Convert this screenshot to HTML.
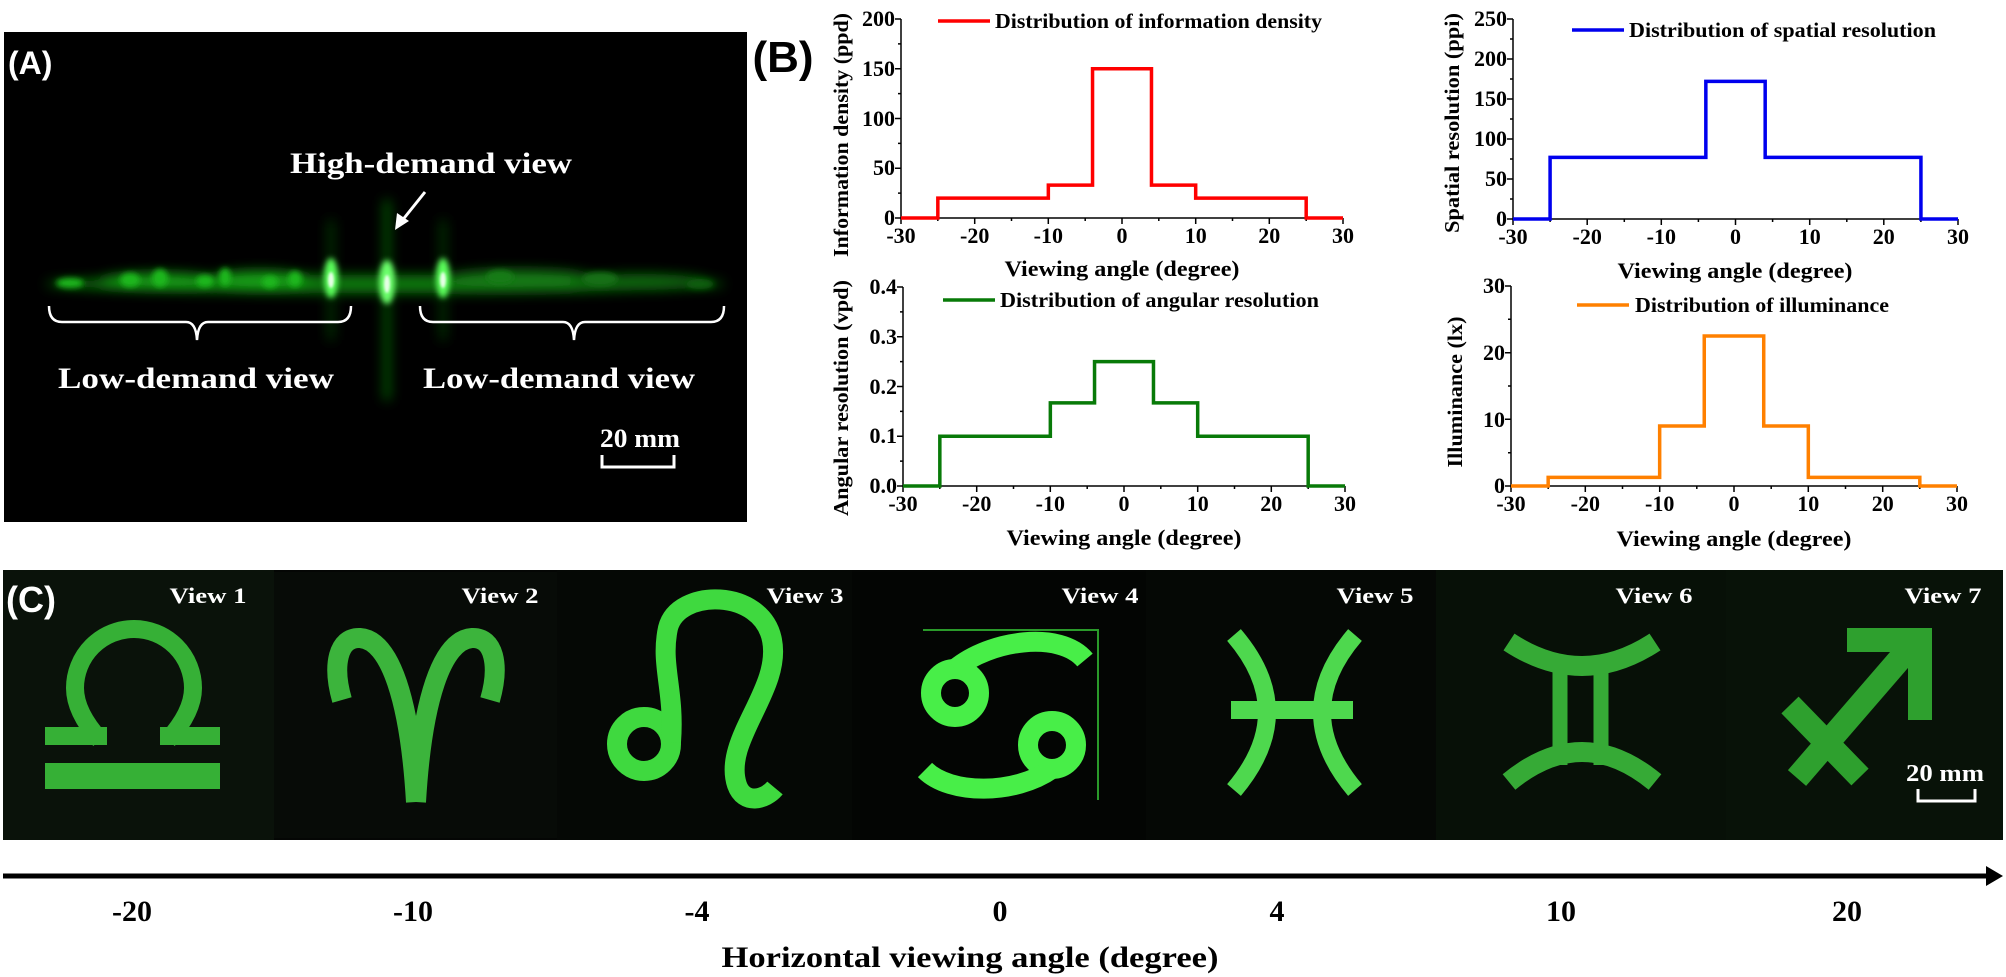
<!DOCTYPE html>
<html><head><meta charset="utf-8"><style>
html,body{margin:0;padding:0;background:#fff;}
svg{display:block;}
.t{font-family:"Liberation Serif",serif;font-weight:bold;}
.s{font-family:"Liberation Sans",sans-serif;font-weight:bold;}
</style></head><body>
<svg width="2006" height="977" viewBox="0 0 2006 977" xmlns="http://www.w3.org/2000/svg">
<defs>
<filter id="b6" x="-50%" y="-50%" width="200%" height="200%"><feGaussianBlur stdDeviation="6"/></filter>
<filter id="b3" x="-50%" y="-50%" width="200%" height="200%"><feGaussianBlur stdDeviation="3"/></filter>
<filter id="b1"><feGaussianBlur stdDeviation="1.2"/></filter>
</defs>

<!-- Panel A -->
<rect x="4" y="32" width="743" height="490" fill="#000"/>
<g filter="url(#b6)">
<ellipse cx="385" cy="284" rx="340" ry="9" fill="#0e7a0e"/>
<ellipse cx="160" cy="281" rx="60" ry="8" fill="#18a018"/>
<ellipse cx="260" cy="280" rx="50" ry="9" fill="#16a016"/>
<ellipse cx="520" cy="280" rx="80" ry="10" fill="#127c12"/>
<ellipse cx="640" cy="282" rx="70" ry="8" fill="#0d6a0d"/>
<rect x="384" y="200" width="6" height="200" fill="#0b6a0b"/>
<rect x="329" y="220" width="4" height="120" fill="#0a5a0a"/>
<rect x="441" y="220" width="4" height="120" fill="#0a5a0a"/>
</g>
<g filter="url(#b3)" fill="#1fb81f">
<ellipse cx="70" cy="283" rx="14" ry="5"/>
<ellipse cx="130" cy="280" rx="10" ry="7"/>
<ellipse cx="160" cy="278" rx="8" ry="9"/>
<ellipse cx="205" cy="281" rx="9" ry="6"/>
<ellipse cx="225" cy="277" rx="6" ry="9"/>
<ellipse cx="270" cy="282" rx="8" ry="6"/>
<ellipse cx="295" cy="279" rx="7" ry="8"/>
<ellipse cx="500" cy="277" rx="14" ry="7" fill="#147c14"/>
<ellipse cx="600" cy="279" rx="18" ry="7" fill="#127012"/>
<ellipse cx="700" cy="284" rx="14" ry="5" fill="#105e10"/>
</g>
<g filter="url(#b3)">
<ellipse cx="331" cy="278" rx="7" ry="20" fill="#5cff5c"/>
<ellipse cx="387" cy="282" rx="8" ry="22" fill="#6cff6c"/>
<ellipse cx="443" cy="278" rx="7" ry="20" fill="#5cff5c"/>
</g>
<g filter="url(#b1)">
<ellipse cx="331" cy="280" rx="3" ry="8" fill="#e8ffe8"/>
<ellipse cx="387" cy="284" rx="3" ry="9" fill="#e8ffe8"/>
<ellipse cx="443" cy="280" rx="3" ry="8" fill="#e8ffe8"/>
</g>
<text class="s" x="8" y="74" font-size="32" fill="#fff">(A)</text>
<text class="t" x="431" y="173" font-size="30" fill="#fff" text-anchor="middle" textLength="282" lengthAdjust="spacingAndGlyphs">High-demand view</text>
<line x1="425" y1="192" x2="401" y2="222" stroke="#fff" stroke-width="3"/>
<polygon points="395,230 397,213 409,221" fill="#fff"/>
<path d="M49 306 Q49 322 62 322 H186 Q196 322 197 340 Q198 322 208 322 H338 Q351 322 351 306" fill="none" stroke="#fff" stroke-width="2.5"/>
<path d="M420 306 Q420 322 433 322 H563 Q573 322 574 340 Q575 322 585 322 H711 Q724 322 724 306" fill="none" stroke="#fff" stroke-width="2.5"/>
<text class="t" x="58" y="388" font-size="30" fill="#fff" textLength="276" lengthAdjust="spacingAndGlyphs">Low-demand view</text>
<text class="t" x="423" y="388" font-size="30" fill="#fff" textLength="272" lengthAdjust="spacingAndGlyphs">Low-demand view</text>
<text class="t" x="640" y="447" font-size="26" fill="#fff" text-anchor="middle" textLength="80" lengthAdjust="spacingAndGlyphs">20 mm</text>
<path d="M602 455 V467 H674 V455" fill="none" stroke="#fff" stroke-width="3"/>

<text class="s" x="783" y="72" font-size="44" fill="#000" text-anchor="middle">(B)</text>

<!-- Chart 1 -->
<g fill="none" stroke="#000" stroke-width="1.5">
<path d="M901 19 V218 H1343"/>
<path d="M901 218v6M974.7 218v6M1048.3 218v6M1122 218v6M1195.7 218v6M1269.3 218v6M1343 218v6M937.8 218v3M1011.5 218v3M1085.2 218v3M1158.8 218v3M1232.5 218v3M1306.2 218v3M901 218h-6M901 168.25h-6M901 118.5h-6M901 68.75h-6M901 19h-6M901 193.1h-3M901 143.4h-3M901 93.6h-3M901 43.9h-3"/>
</g>
<path transform="translate(901,218) scale(7.367,-0.995)" d="M0 0 H5 V20 H20 V33 H26 V150 H34 V33 H40 V20 H55 V0 H60" fill="none" stroke="#ff0000" stroke-width="3.5" style="vector-effect:non-scaling-stroke"/>
<g class="t" font-size="22" text-anchor="middle">
<text x="901" y="243">-30</text><text x="974.7" y="243">-20</text><text x="1048.3" y="243">-10</text><text x="1122" y="243">0</text><text x="1195.7" y="243">10</text><text x="1269.3" y="243">20</text><text x="1343" y="243">30</text>
</g>
<g class="t" font-size="22" text-anchor="end">
<text x="895" y="225">0</text><text x="895" y="175">50</text><text x="895" y="126">100</text><text x="895" y="76">150</text><text x="895" y="26">200</text>
</g>
<text class="t" x="1122" y="276" font-size="22" text-anchor="middle" textLength="235" lengthAdjust="spacingAndGlyphs">Viewing angle (degree)</text>
<text class="t" transform="translate(848,135) rotate(-90)" font-size="21" text-anchor="middle" textLength="244" lengthAdjust="spacingAndGlyphs">Information density (ppd)</text>
<line x1="938" y1="21" x2="990" y2="21" stroke="#ff0000" stroke-width="3.5"/>
<text class="t" x="995" y="28" font-size="21" textLength="327" lengthAdjust="spacingAndGlyphs">Distribution of information density</text>

<!-- Chart 2 -->
<g fill="none" stroke="#000" stroke-width="1.5">
<path d="M1513 19 V219 H1958"/>
<path d="M1513 219v6M1587.2 219v6M1661.3 219v6M1735.5 219v6M1809.7 219v6M1883.8 219v6M1958 219v6M1550.1 219v3M1624.3 219v3M1698.4 219v3M1772.6 219v3M1846.8 219v3M1920.9 219v3M1513 219h-6M1513 179h-6M1513 139h-6M1513 99h-6M1513 59h-6M1513 19h-6M1513 199h-3M1513 159h-3M1513 119h-3M1513 79h-3M1513 39h-3"/>
</g>
<path transform="translate(1513,219) scale(7.417,-0.8)" d="M0 0 H5 V77 H26 V172 H34 V77 H55 V0 H60" fill="none" stroke="#0000ee" stroke-width="3.5" style="vector-effect:non-scaling-stroke"/>
<g class="t" font-size="22" text-anchor="middle">
<text x="1513" y="244">-30</text><text x="1587.2" y="244">-20</text><text x="1661.3" y="244">-10</text><text x="1735.5" y="244">0</text><text x="1809.7" y="244">10</text><text x="1883.8" y="244">20</text><text x="1958" y="244">30</text>
</g>
<g class="t" font-size="22" text-anchor="end">
<text x="1507" y="226">0</text><text x="1507" y="186">50</text><text x="1507" y="146">100</text><text x="1507" y="106">150</text><text x="1507" y="66">200</text><text x="1507" y="26">250</text>
</g>
<text class="t" x="1735" y="278" font-size="22" text-anchor="middle" textLength="235" lengthAdjust="spacingAndGlyphs">Viewing angle (degree)</text>
<text class="t" transform="translate(1459,123) rotate(-90)" font-size="21" text-anchor="middle" textLength="220" lengthAdjust="spacingAndGlyphs">Spatial resolution (ppi)</text>
<line x1="1572" y1="30" x2="1624" y2="30" stroke="#0000ee" stroke-width="3.5"/>
<text class="t" x="1629" y="37" font-size="21" textLength="307" lengthAdjust="spacingAndGlyphs">Distribution of spatial resolution</text>

<!-- Chart 3 -->
<g fill="none" stroke="#000" stroke-width="1.5">
<path d="M903 287 V486 H1345"/>
<path d="M903 486v6M976.7 486v6M1050.3 486v6M1124 486v6M1197.7 486v6M1271.3 486v6M1345 486v6M939.8 486v3M1013.5 486v3M1087.2 486v3M1160.8 486v3M1234.5 486v3M1308.2 486v3M903 486h-6M903 436.25h-6M903 386.5h-6M903 336.75h-6M903 287h-6M903 461.1h-3M903 411.4h-3M903 361.6h-3M903 311.9h-3"/>
</g>
<path transform="translate(903,486) scale(7.367,-497.5)" d="M0 0 H5 V0.1 H20 V0.167 H26 V0.25 H34 V0.167 H40 V0.1 H55 V0 H60" fill="none" stroke="#087a08" stroke-width="3.5" style="vector-effect:non-scaling-stroke"/>
<g class="t" font-size="22" text-anchor="middle">
<text x="903" y="511">-30</text><text x="976.7" y="511">-20</text><text x="1050.3" y="511">-10</text><text x="1124" y="511">0</text><text x="1197.7" y="511">10</text><text x="1271.3" y="511">20</text><text x="1345" y="511">30</text>
</g>
<g class="t" font-size="22" text-anchor="end">
<text x="897" y="493">0.0</text><text x="897" y="443">0.1</text><text x="897" y="394">0.2</text><text x="897" y="344">0.3</text><text x="897" y="294">0.4</text>
</g>
<text class="t" x="1124" y="545" font-size="22" text-anchor="middle" textLength="235" lengthAdjust="spacingAndGlyphs">Viewing angle (degree)</text>
<text class="t" transform="translate(848,398) rotate(-90)" font-size="21" text-anchor="middle" textLength="236" lengthAdjust="spacingAndGlyphs">Angular resolution (vpd)</text>
<line x1="943" y1="300" x2="995" y2="300" stroke="#087a08" stroke-width="3.5"/>
<text class="t" x="1000" y="307" font-size="21" textLength="319" lengthAdjust="spacingAndGlyphs">Distribution of angular resolution</text>

<!-- Chart 4 -->
<g fill="none" stroke="#000" stroke-width="1.5">
<path d="M1511 286 V486 H1957"/>
<path d="M1511 486v6M1585.3 486v6M1659.7 486v6M1734 486v6M1808.3 486v6M1882.7 486v6M1957 486v6M1548.2 486v3M1622.5 486v3M1696.8 486v3M1771.2 486v3M1845.5 486v3M1919.8 486v3M1511 486h-6M1511 419.3h-6M1511 352.7h-6M1511 286h-6M1511 452.7h-3M1511 386h-3M1511 319.3h-3"/>
</g>
<path transform="translate(1511,486) scale(7.433,-6.667)" d="M0 0 H5 V1.3 H20 V9 H26 V22.5 H34 V9 H40 V1.3 H55 V0 H60" fill="none" stroke="#ff8000" stroke-width="3.5" style="vector-effect:non-scaling-stroke"/>
<g class="t" font-size="22" text-anchor="middle">
<text x="1511" y="511">-30</text><text x="1585.3" y="511">-20</text><text x="1659.7" y="511">-10</text><text x="1734" y="511">0</text><text x="1808.3" y="511">10</text><text x="1882.7" y="511">20</text><text x="1957" y="511">30</text>
</g>
<g class="t" font-size="22" text-anchor="end">
<text x="1505" y="493">0</text><text x="1505" y="427">10</text><text x="1505" y="360">20</text><text x="1505" y="293">30</text>
</g>
<text class="t" x="1734" y="546" font-size="22" text-anchor="middle" textLength="235" lengthAdjust="spacingAndGlyphs">Viewing angle (degree)</text>
<text class="t" transform="translate(1462,392) rotate(-90)" font-size="21" text-anchor="middle" textLength="151" lengthAdjust="spacingAndGlyphs">Illuminance (lx)</text>
<line x1="1577" y1="305" x2="1629" y2="305" stroke="#ff8000" stroke-width="3.5"/>
<text class="t" x="1635" y="312" font-size="21" textLength="254" lengthAdjust="spacingAndGlyphs">Distribution of illuminance</text>

<!-- Panel C -->
<rect x="3" y="570" width="2000" height="270" fill="#040604"/>
<rect x="3" y="570" width="271" height="270" fill="#0a120a"/>
<rect x="274" y="572" width="283" height="266" fill="#070b07"/>
<rect x="557" y="570" width="295" height="270" fill="#050805"/>
<rect x="852" y="572" width="294" height="268" fill="#030503"/>
<rect x="1146" y="570" width="290" height="270" fill="#050805"/>
<rect x="1436" y="570" width="290" height="270" fill="#071007"/>
<rect x="1726" y="570" width="277" height="270" fill="#081208"/>
<!-- Libra -->
<g fill="none" stroke="#36b036" stroke-width="18">
<path d="M100 740 Q75 712 75 688 A59 59 0 0 1 193 688 Q193 712 168 740"/>
</g>
<rect x="45" y="727" width="62" height="18" fill="#36b036"/>
<rect x="160" y="727" width="60" height="18" fill="#36b036"/>
<rect x="45" y="763" width="175" height="26" fill="#36b036"/>
<!-- Aries -->
<g fill="none" stroke="#3cb43c" stroke-width="20">
<path d="M416 802 C410 700 390 640 360 638 C338 637 332 665 342 700"/>
<path d="M416 802 C422 700 442 640 472 638 C494 637 500 665 490 700"/>
</g>
<!-- Leo -->
<g fill="none" stroke="#3fd93f" stroke-width="20">
<circle cx="644" cy="744" r="27"/>
<path d="M671 742 C675 690 660 665 668 628 C678 588 762 588 772 640 C782 690 722 740 737 785 C744 805 765 800 775 788"/>
</g>
<!-- Cancer -->
<g fill="none" stroke="#48ee48" stroke-width="20">
<circle cx="955" cy="693" r="24"/>
<path d="M955 669 C990 640 1060 630 1085 660"/>
<circle cx="1052" cy="745" r="24"/>
<path d="M1052 769 C1015 795 950 795 925 770"/>
</g>
<path d="M923 630 H1098 V800" fill="none" stroke="#2a9a2a" stroke-width="2"/>
<!-- Pisces -->
<g fill="none" stroke="#4ed84e" stroke-width="18">
<path d="M1234 635 Q1300 712 1234 790"/>
<path d="M1355 635 Q1289 712 1355 790"/>
<path d="M1231 710 H1353"/>
</g>
<!-- Gemini -->
<g fill="none" stroke="#36aa36" stroke-width="20">
<path d="M1509 642 Q1582 690 1655 642"/>
<path d="M1509 782 Q1582 722 1655 782"/>
<path d="M1560 660 V765 M1601 660 V765" stroke-width="15"/>
</g>
<!-- Sagittarius -->
<g fill="none" stroke="#2ea02e" stroke-width="24">
<path d="M1797 778 L1918 638"/>
<path d="M1847 640 H1920 V720"/>
<path d="M1790 705 L1860 777"/>
</g>
<g class="t" font-size="22" fill="#fff" text-anchor="middle">
<text x="208" y="603" textLength="77" lengthAdjust="spacingAndGlyphs">View 1</text>
<text x="500" y="603" textLength="77" lengthAdjust="spacingAndGlyphs">View 2</text>
<text x="805" y="603" textLength="77" lengthAdjust="spacingAndGlyphs">View 3</text>
<text x="1100" y="603" textLength="77" lengthAdjust="spacingAndGlyphs">View 4</text>
<text x="1375" y="603" textLength="77" lengthAdjust="spacingAndGlyphs">View 5</text>
<text x="1654" y="603" textLength="77" lengthAdjust="spacingAndGlyphs">View 6</text>
<text x="1943" y="603" textLength="77" lengthAdjust="spacingAndGlyphs">View 7</text>
</g>
<text class="s" x="6" y="612" font-size="36" fill="#fff">(C)</text>
<text class="t" x="1945" y="781" font-size="24" fill="#fff" text-anchor="middle" textLength="78" lengthAdjust="spacingAndGlyphs">20 mm</text>
<path d="M1918 789 V801 H1975 V789" fill="none" stroke="#fff" stroke-width="3"/>

<!-- bottom axis -->
<line x1="3" y1="876" x2="1992" y2="876" stroke="#000" stroke-width="5"/>
<polygon points="2003,876 1986,866 1986,886" fill="#000"/>
<g class="t" font-size="30" text-anchor="middle">
<text x="132" y="921">-20</text><text x="413" y="921">-10</text><text x="697" y="921">-4</text><text x="1000" y="921">0</text><text x="1277" y="921">4</text><text x="1561" y="921">10</text><text x="1847" y="921">20</text>
</g>
<text class="t" x="970" y="967" font-size="30" text-anchor="middle" textLength="497" lengthAdjust="spacingAndGlyphs">Horizontal viewing angle (degree)</text>
</svg>
</body></html>
